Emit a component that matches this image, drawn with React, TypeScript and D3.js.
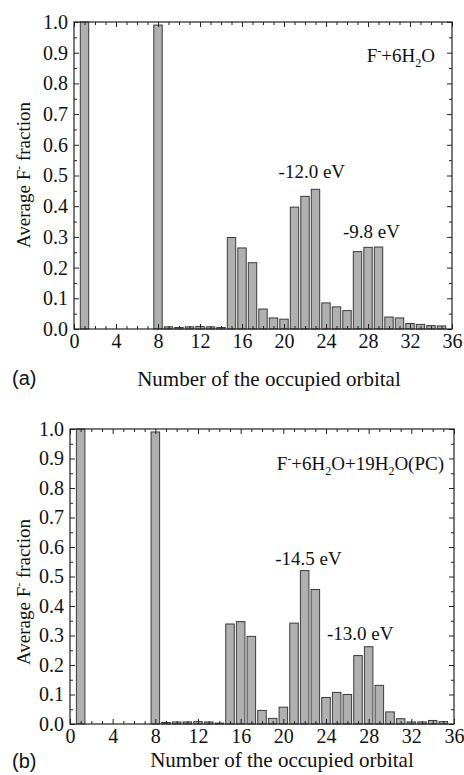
import React, { useRef, useEffect } from 'react';
import * as d3 from 'd3';

// orbital index 1..35, F- fraction per orbital
const orbitals = [1, 2, 3, 4, 5, 6, 7, 8, 9, 10, 11, 12, 13, 14, 15, 16, 17, 18, 19, 20,
    21, 22, 23, 24, 25, 26, 27, 28, 29, 30, 31, 32, 33, 34, 35];

const fractionA = [1.0, 0, 0, 0, 0, 0, 0, 0.99, 0.007, 0.005, 0.007, 0.008, 0.007, 0.005,
    0.298, 0.264, 0.216, 0.065, 0.036, 0.032, 0.397, 0.432, 0.455, 0.085, 0.072, 0.060,
    0.252, 0.266, 0.267, 0.039, 0.036, 0.018, 0.015, 0.011, 0.010];

const fractionB = [1.0, 0, 0, 0, 0, 0, 0, 0.99, 0.005, 0.007, 0.007, 0.008, 0.007, 0.003,
    0.339, 0.347, 0.297, 0.046, 0.019, 0.057, 0.342, 0.52, 0.456, 0.09, 0.107, 0.10,
    0.232, 0.262, 0.131, 0.041, 0.018, 0.007, 0.007, 0.012, 0.008];

const xTicks = [0, 4, 8, 12, 16, 20, 24, 28, 32, 36];
const yTicks = [0, 0.1, 0.2, 0.3, 0.4, 0.5, 0.6, 0.7, 0.8, 0.9, 1.0];

// annotations: orbital position, fraction position, text
const notesA = [{ x: 22.65, y: 0.492, text: '-12.0 eV' }, { x: 28.33, y: 0.296, text: '-9.8 eV' }];
const notesB = [{ x: 22.36, y: 0.539, text: '-14.5 eV' }, { x: 27.2, y: 0.285, text: '-13.0 eV' }];

const FONT = '"Liberation Serif", "Times New Roman", serif';

function drawPanel(svg, p) {
    const box = p.box;
    const x = d3.scaleLinear().domain([0, 36]).range([box.left, box.right]);
    const y = d3.scaleLinear().domain([0, 1.0]).range([box.bottom, box.top]);
    const bw = (x(1) - x(0)) * 0.8;

    const g = svg.append('g');

    g.selectAll('rect.bar')
        .data(orbitals.map((o, i) => ({ o, v: p.values[i] })).filter(d => d.v > 0))
        .enter()
        .append('rect')
        .attr('class', 'bar')
        .attr('x', d => x(d.o) - bw / 2)
        .attr('y', d => y(d.v))
        .attr('width', bw)
        .attr('height', d => y(0) - y(d.v))
        .style('fill', '#b0b0b0')
        .style('stroke', '#3a3a3a')
        .style('stroke-width', 1);

    const minorX = d3.range(0, 37).filter(v => v % 4 !== 0);
    const minorY = d3.range(0, 21).filter(v => v % 2 !== 0).map(v => v * 0.05);

    const style = (sel) => {
        sel.select('.domain').remove();
        sel.selectAll('line').attr('stroke', '#222');
        sel.attr('font-family', FONT).attr('font-size', 20);
        sel.selectAll('text').attr('fill', '#111');
    };

    g.append('g').attr('transform', `translate(0,${box.bottom})`)
        .call(d3.axisBottom(x).tickValues(xTicks).tickSize(-5).tickPadding(5).tickFormat(d3.format('d')))
        .call(style);
    g.append('g').attr('transform', `translate(0,${box.bottom})`)
        .call(d3.axisBottom(x).tickValues(minorX).tickSize(-3).tickFormat(''))
        .call(style);
    g.append('g').attr('transform', `translate(0,${box.top})`)
        .call(d3.axisTop(x).tickValues(xTicks).tickSize(-5).tickFormat(''))
        .call(style);
    g.append('g').attr('transform', `translate(0,${box.top})`)
        .call(d3.axisTop(x).tickValues(minorX).tickSize(-3).tickFormat(''))
        .call(style);

    g.append('g').attr('transform', `translate(${box.left},0)`)
        .call(d3.axisLeft(y).tickValues(yTicks).tickSize(-5).tickPadding(6).tickFormat(d3.format('.1f')))
        .call(style);
    g.append('g').attr('transform', `translate(${box.left},0)`)
        .call(d3.axisLeft(y).tickValues(minorY).tickSize(-3).tickFormat(''))
        .call(style);
    g.append('g').attr('transform', `translate(${box.right},0)`)
        .call(d3.axisRight(y).tickValues(yTicks).tickSize(-5).tickFormat(''))
        .call(style);
    g.append('g').attr('transform', `translate(${box.right},0)`)
        .call(d3.axisRight(y).tickValues(minorY).tickSize(-3).tickFormat(''))
        .call(style);

    g.append('rect')
        .attr('x', box.left).attr('y', box.top)
        .attr('width', box.right - box.left).attr('height', box.bottom - box.top)
        .style('fill', 'none').style('stroke', '#222').style('stroke-width', 1.2);

    // axis titles
    g.append('text')
        .attr('x', p.xTitle.x)
        .attr('y', p.xTitle.y)
        .attr('text-anchor', 'middle')
        .attr('font-family', FONT).attr('font-size', 21).attr('fill', '#111')
        .text('Number of the occupied orbital');

    const yl = g.append('text')
        .attr('transform', `translate(30,${p.yTitleY}) rotate(-90)`)
        .attr('text-anchor', 'middle')
        .attr('font-family', FONT).attr('font-size', 19).attr('fill', '#111');
    yl.append('tspan').text('Average F');
    yl.append('tspan').attr('dy', -7).attr('font-size', 12).text('-');
    yl.append('tspan').attr('dy', 7).text(' fraction');

    g.append('text')
        .attr('x', 12).attr('y', p.labelY)
        .attr('font-family', '"Liberation Sans", Arial, sans-serif').attr('font-size', 20).attr('fill', '#111')
        .text(p.label);

    // legend with super/subscripts
    const lg = g.append('text')
        .attr('x', p.legend.x).attr('y', p.legend.y)
        .attr('text-anchor', 'end')
        .attr('font-family', FONT).attr('font-size', 19).attr('fill', '#111');
    p.legend.parts.forEach(q => {
        const t = lg.append('tspan').text(q.t);
        if (q.sup) t.attr('dy', -7).attr('font-size', 12);
        else if (q.sub) t.attr('dy', 5).attr('font-size', 12);
        else if (q.dy) t.attr('dy', q.dy);
    });

    g.selectAll('text.note')
        .data(p.notes)
        .enter()
        .append('text')
        .attr('class', 'note')
        .attr('x', d => x(d.x))
        .attr('y', d => y(d.y))
        .attr('text-anchor', 'middle')
        .attr('font-family', FONT).attr('font-size', 19).attr('fill', '#111')
        .text(d => d.text);
}

const legendA = {
    x: 435, y: 62,
    parts: [{ t: 'F' }, { t: '-', sup: true }, { t: '+6H', dy: 7 }, { t: '2', sub: true }, { t: 'O', dy: -5 }]
};
const legendB = {
    x: 444, y: 470,
    parts: [{ t: 'F' }, { t: '-', sup: true }, { t: '+6H', dy: 7 }, { t: '2', sub: true }, { t: 'O+19H', dy: -5 },
        { t: '2', sub: true }, { t: 'O(PC)', dy: -5 }]
};

const App = () => {
    const ref = useRef(null);
    useEffect(() => {
        d3.select(ref.current).selectAll('*').remove();
        const svg = d3.select(ref.current);
        drawPanel(svg, {
            box: { left: 74, right: 452, top: 22, bottom: 329 },
            values: fractionA, legend: legendA, notes: notesA, label: '(a)',
            xTitle: { x: 269, y: 386 }, yTitleY: 175, labelY: 385
        });
        drawPanel(svg, {
            box: { left: 70, right: 454, top: 429, bottom: 724 },
            values: fractionB, legend: legendB, notes: notesB, label: '(b)',
            xTitle: { x: 282, y: 767 }, yTitleY: 592, labelY: 768
        });
    }, []);
    return (
        <svg ref={ref} width={464} height={775}
            style={{ position: 'absolute', left: 0, top: 0, background: '#fff' }}>
        </svg>
    );
};

export default App;
